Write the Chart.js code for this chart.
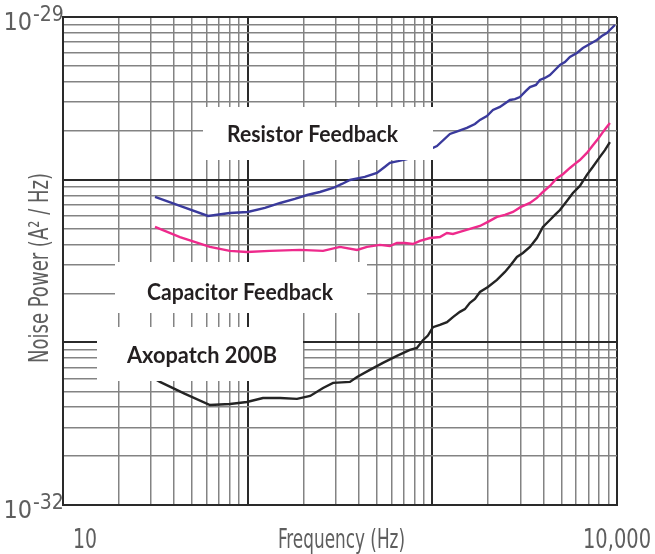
<!DOCTYPE html>
<html>
<head>
<meta charset="utf-8">
<script src="https://cdn.jsdelivr.net/npm/chart.js@4.4.1/dist/chart.umd.min.js"></script>
<style>
    html, body { margin: 0; padding: 0; background: #fff; }
    #wrap { width: 655px; height: 554px; position: relative; }
</style>
</head>
<body>
<div id="wrap"><canvas id="noiseChart"></canvas></div>
<script>
// Values: frequency in Hz, noise power in A^2/Hz
const resistorFreq = [31.5, 43, 61, 80, 100, 124, 150, 180, 210, 246, 290, 324, 358, 431, 501, 554, 589, 651, 729, 857,
    1059, 1245, 1376, 1539, 1701, 1811, 1975, 2129, 2323, 2632, 2800, 2980, 3212, 3377, 3639, 3825, 4071, 4332, 4670, 4910,
    5224, 5559, 6065, 6535, 7127, 7780, 8277, 8807, 9265, 9745];
const resistorPower = [7.83e-31, 6.89e-31, 5.98e-31, 6.24e-31, 6.33e-31, 6.70e-31, 7.19e-31, 7.61e-31, 8.05e-31, 8.40e-31,
    8.89e-31, 9.41e-31, 9.96e-31, 1.04e-30, 1.10e-30, 1.20e-30, 1.27e-30, 1.30e-30, 1.34e-30, 1.44e-30,
    1.61e-30, 1.91e-30, 1.99e-30, 2.08e-30, 2.20e-30, 2.33e-30, 2.46e-30, 2.68e-30, 2.80e-30, 3.09e-30,
    3.13e-30, 3.22e-30, 3.51e-30, 3.71e-30, 3.82e-30, 4.10e-30, 4.22e-30, 4.40e-30, 4.79e-30, 5.07e-30,
    5.29e-30, 5.68e-30, 6.01e-30, 6.45e-30, 6.82e-30, 7.22e-30, 7.64e-30, 7.97e-30, 8.44e-30, 8.93e-30];

const capacitorFreq = [31.5, 43, 62.5, 80, 99, 132, 192, 256, 316, 391, 443, 520, 589, 643, 711, 785, 857, 970, 1099, 1200,
    1293, 1410, 1598, 1811, 2000, 2238, 2472, 2732, 3018, 3377, 3684, 3970, 4332, 4727, 5094, 5559, 5916, 6295, 6871, 7406,
    7882, 8387, 8807, 9154];
const capacitorPower = [5.12e-31, 4.44e-31, 3.86e-31, 3.65e-31, 3.59e-31, 3.65e-31, 3.70e-31, 3.65e-31, 3.86e-31, 3.70e-31,
    3.86e-31, 3.97e-31, 3.91e-31, 4.08e-31, 4.08e-31, 4.02e-31, 4.20e-31, 4.38e-31, 4.44e-31, 4.70e-31,
    4.64e-31, 4.77e-31, 4.98e-31, 5.19e-31, 5.50e-31, 5.90e-31, 6.07e-31, 6.33e-31, 6.80e-31, 7.19e-31,
    7.73e-31, 8.40e-31, 9.15e-31, 1.02e-30, 1.08e-30, 1.18e-30, 1.25e-30, 1.32e-30, 1.46e-30, 1.63e-30,
    1.78e-30, 1.96e-30, 2.11e-30, 2.23e-30];

const axopatchFreq = [31.5, 33.5, 45.8, 62.5, 80.2, 99, 121, 150, 185, 218, 256, 290, 358, 391, 459, 540, 643, 756, 825, 889,
    946, 1008, 1099, 1200, 1293, 1410, 1501, 1598, 1701, 1811, 2000, 2238, 2472, 2632, 2871, 3094, 3377, 3684, 3970, 4332,
    4611, 4910, 5354, 5770, 6295, 6871, 7406, 8080, 8600, 9154];
const axopatchPower = [5.96e-32, 5.71e-32, 4.82e-32, 4.12e-32, 4.18e-32, 4.30e-32, 4.55e-32, 4.55e-32, 4.49e-32, 4.68e-32,
    5.24e-32, 5.63e-32, 5.71e-32, 6.13e-32, 6.77e-32, 7.47e-32, 8.25e-32, 8.98e-32, 9.24e-32, 1.03e-31,
    1.10e-31, 1.24e-31, 1.28e-31, 1.33e-31, 1.43e-31, 1.54e-31, 1.60e-31, 1.75e-31, 1.85e-31, 2.04e-31,
    2.19e-31, 2.42e-31, 2.71e-31, 2.95e-31, 3.35e-31, 3.54e-31, 3.86e-31, 4.38e-31, 5.12e-31, 5.65e-31,
    6.07e-31, 6.51e-31, 7.40e-31, 8.29e-31, 9.15e-31, 1.07e-30, 1.20e-30, 1.38e-30, 1.52e-30, 1.70e-30];

const seriesNames = ['Resistor Feedback', 'Capacitor Feedback', 'Axopatch 200B'];
const xTickValues = [10, 10000];
const xTickLabels = ['10', '10,000'];
const yTickValues = [1e-29, 1e-32];
const yTickExponents = ['-29', '-32'];
const xDecades = [10, 100, 1000];
const yDecades = [1e-32, 1e-31, 1e-30];

// log grid: 1..9 in every decade plus the top end
function logGrid(decades, last) {
    const out = [];
    decades.forEach(d => {
        for (let i = 1; i < 10; i++) out.push(d * i);
    });
    out.push(last);
    return out;
}

function isDecade(v) {
    const l = Math.log10(v);
    return Math.abs(l - Math.round(l)) < 1e-6;
}

function toPoints(xs, ys) {
    return xs.map((x, i) => ({ x: x, y: ys[i] }));
}

// squeeze text horizontally to a given width (the original uses a condensed face)
function fitText(ctx, text, x, y, width) {
    const w = ctx.measureText(text).width;
    ctx.save();
    ctx.translate(x, y);
    ctx.scale(width / w, 1);
    ctx.textAlign = 'center';
    ctx.fillText(text, 0, 0);
    ctx.restore();
}

const axisFont = '"Liberation Sans Narrow", "DejaVu Sans Condensed", sans-serif';
const axisColor = '#5e5e5e';

// white label boxes drawn over grid and curves
const labelBoxes = {
    id: 'labelBoxes',
    afterDatasetsDraw(chart) {
        const ctx = chart.ctx;
        const boxes = [
            { rect: [203, 107, 230, 53], cx: 312.5, base: 142, w: 171 },
            { rect: [115, 262, 252, 51], cx: 240, base: 300, w: 186 },
            { rect: [97, 327, 206, 54], cx: 202, base: 363, w: 150 }
        ];
        ctx.save();
        ctx.font = 'bold 22px Lato, "Open Sans", sans-serif';
        ctx.textBaseline = 'alphabetic';
        boxes.forEach((b, i) => {
            ctx.fillStyle = '#ffffff';
            ctx.fillRect(b.rect[0], b.rect[1], b.rect[2], b.rect[3]);
            ctx.fillStyle = '#231f20';
            fitText(ctx, seriesNames[i], b.cx, b.base, b.w);
        });
        ctx.restore();
    }
};

// axis numbers and titles
const axisText = {
    id: 'axisText',
    afterDraw(chart) {
        const ctx = chart.ctx;
        const xs = chart.scales.x;
        const ys = chart.scales.y;
        ctx.save();
        ctx.fillStyle = axisColor;
        ctx.textBaseline = 'alphabetic';

        ctx.font = '27px ' + axisFont;
        const xShift = [22, 0];
        const xWidth = [24, 68];
        xTickValues.forEach((v, i) => {
            fitText(ctx, xTickLabels[i], xs.getPixelForValue(v) + xShift[i], 548, xWidth[i]);
        });
        fitText(ctx, 'Frequency (Hz)', 341.5, 548, 127);

        yTickValues.forEach((v, i) => {
            const py = ys.getPixelForValue(v);
            ctx.font = '25px ' + axisFont;
            ctx.textAlign = 'right';
            ctx.fillText('10', 32, py + 13);
            ctx.font = '21px ' + axisFont;
            ctx.textAlign = 'left';
            ctx.fillText(yTickExponents[i], 33, py + 4);
        });

        ctx.translate(48, 268);
        ctx.rotate(-Math.PI / 2);
        ctx.font = '27px ' + axisFont;
        fitText(ctx, 'Noise Power (A\u00B2 / Hz)', 0, 0, 190);
        ctx.restore();
    }
};

function gridOptions() {
    return {
        color: ctx => isDecade(ctx.tick.value) ? '#2a2a2a' : '#838383',
        lineWidth: ctx => isDecade(ctx.tick.value) ? 2 : 1.5,
        drawTicks: false
    };
}

const ctx = document.getElementById('noiseChart').getContext('2d');
const chart = new Chart(ctx, {
    type: 'line',
    data: {
        datasets: [
            { label: seriesNames[0], data: toPoints(resistorFreq, resistorPower), borderColor: '#3a3a9c' },
            { label: seriesNames[1], data: toPoints(capacitorFreq, capacitorPower), borderColor: '#ee2a8c' },
            { label: seriesNames[2], data: toPoints(axopatchFreq, axopatchPower), borderColor: '#242424' }
        ]
    },
    options: {
        responsive: true,
        maintainAspectRatio: false,
        animation: false,
        datasets: {
            line: { borderWidth: 2.4, pointRadius: 0, tension: 0, fill: false }
        },
        layout: {
            padding: { left: 63, top: 17, right: 38, bottom: 49 }
        },
        plugins: {
            legend: { display: false },
            tooltip: { enabled: false }
        },
        scales: {
            x: {
                type: 'logarithmic',
                min: 10,
                max: 10000,
                afterBuildTicks: s => { s.ticks = logGrid(xDecades, 10000).map(v => ({ value: v })); },
                ticks: { display: false },
                grid: gridOptions(),
                border: { display: true, color: '#2a2a2a', width: 2 }
            },
            y: {
                type: 'logarithmic',
                min: 1e-32,
                max: 1e-29,
                afterBuildTicks: s => { s.ticks = logGrid(yDecades, 1e-29).map(v => ({ value: v })); },
                ticks: { display: false },
                grid: gridOptions(),
                border: { display: true, color: '#2a2a2a', width: 2 }
            }
        }
    },
    plugins: [labelBoxes, axisText]
});
</script>
</body>
</html>
